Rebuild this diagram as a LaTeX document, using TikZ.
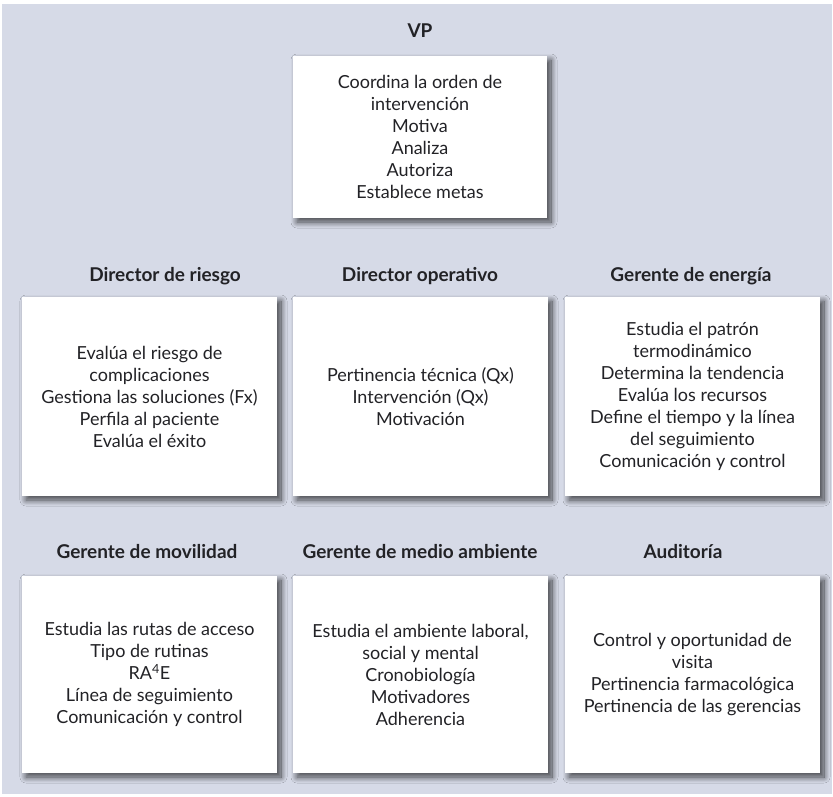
\documentclass[tikz,border=0pt]{standalone}
\usepackage{fontspec}
\setmainfont{Lato}
\usetikzlibrary{shadows.blur}
\definecolor{panel}{RGB}{214,218,231}
\definecolor{ink}{RGB}{34,34,38}
\begin{document}
\begin{tikzpicture}[x=1pt,y=-1pt,
  card/.style={rectangle, fill=white, inner sep=0pt, align=center,
    text=ink, font=\fontsize{18}{22}\selectfont,
    blur shadow={shadow xshift=4pt, shadow yshift=-4pt,
      shadow blur radius=6pt, shadow blur steps=14, shadow opacity=70}},
  cardA/.style={card, minimum width=254pt, minimum height=162pt},
  cardB/.style={card, minimum width=255pt, minimum height=199pt},
  cardC/.style={card, minimum width=255pt, minimum height=197pt},
  role/.style={anchor=base, inner sep=0pt, text=ink,
    font=\fontsize{19}{22}\selectfont\bfseries}]
% page and panel
\useasboundingbox (0,0) rectangle (833,796);
\fill[white] (0,0) rectangle (833,796);
\fill[panel] (2,4) rectangle (832,794);

% top level
\node[role] (tVP) at (420,37) {VP};
\node[cardA] (bVP) at (420,137) {Coordina la orden de\\intervención\\Motiva\\Analiza\\Autoriza\\Establece metas};

% second row
\node[role] (tR) at (165,281) {Director de riesgo};
\node[role] (tO) at (420,281) {Director operativo};
\node[role] (tE) at (691,281) {Gerente de energía};
\node[cardB] (bR) at (149.5,396.5) {Evalúa el riesgo de\\complicaciones\\Gestiona las soluciones (Fx)\\Perfila al paciente\\Evalúa el éxito};
\node[cardB] (bO) at (420.5,396.5) {Pertinencia técnica (Qx)\\Intervención (Qx)\\Motivación};
\node[cardB] (bE) at (692.5,396.5) {Estudia el patrón\\termodinámico\\Determina la tendencia\\Evalúa los recursos\\Define el tiempo y la línea\\del seguimiento\\Comunicación y control};

% third row
\node[role] (tM) at (147,558) {Gerente de movilidad};
\node[role] (tA) at (420,558) {Gerente de medio ambiente};
\node[role] (tU) at (683,558) {Auditoría};
\node[cardC] (bM) at (149.5,674.5) {Estudia las rutas de acceso\\Tipo de rutinas\\RA\textsuperscript{4}E\\Línea de seguimiento\\Comunicación y control};
\node[cardC] (bA) at (420.5,674.5) {Estudia el ambiente laboral,\\social y mental\\Cronobiología\\Motivadores\\Adherencia};
\node[cardC] (bU) at (692.5,674.5) {Control y oportunidad de\\visita\\Pertinencia farmacológica\\Pertinencia de las gerencias};
\end{tikzpicture}
\end{document}
